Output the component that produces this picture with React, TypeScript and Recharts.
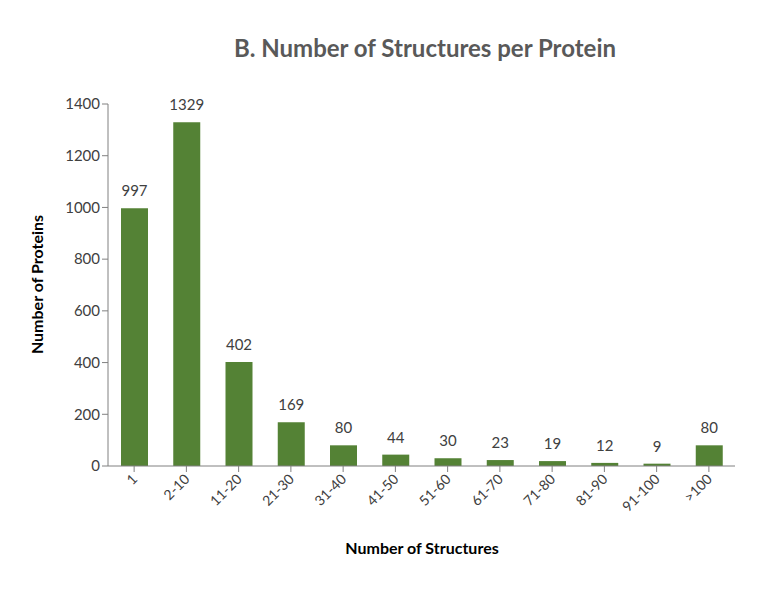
import { BarChart, Bar, XAxis, YAxis } from "recharts";

const categories = ["1", "2-10", "11-20", "21-30", "31-40", "41-50", "51-60", "61-70", "71-80", "81-90", "91-100", ">100"];
const counts = [997, 1329, 402, 169, 80, 44, 30, 23, 19, 12, 9, 80];
const yTicks = [0, 200, 400, 600, 800, 1000, 1200, 1400];

const data = categories.map((c, i) => ({ name: c, value: counts[i] }));

const FONT = "Lato, 'Open Sans', sans-serif";

const RotatedTick = (props: any) => {
  const { x, y, payload } = props;
  return (
    <g transform={`translate(${x + 4},${y + 6})`}>
      <text textAnchor="end" transform="rotate(-45)" fill="#404040" fontSize={14} fontFamily={FONT}>
        {payload.value}
      </text>
    </g>
  );
};

const labelStyle = { fill: "#404040", fontSize: 15, fontFamily: FONT, position: "top" as const, offset: 12 };

export default function App() {
  return (
    <div style={{ position: "relative", margin: -8, width: 767, height: 595, background: "#fff" }}>
      <div style={{ position: "absolute", left: 0, top: 0 }}>
        <BarChart
          width={767}
          height={595}
          data={data}
          margin={{ top: 104, right: 32, bottom: 59, left: 53 }}
        >
          <XAxis
            dataKey="name"
            interval={0}
            tick={<RotatedTick />}
            height={70}
            stroke="#808080"
            tickLine={{ stroke: "#808080" }}
          />
          <YAxis
            domain={[0, 1400]}
            ticks={yTicks}
            width={55}
            stroke="#808080"
            tick={{ fill: "#404040", fontSize: 15, fontFamily: FONT }}
            tickLine={{ stroke: "#808080" }}
          />
          <Bar dataKey="value" fill="#548235" barSize={27} isAnimationActive={false} label={labelStyle} />
        </BarChart>
      </div>
      <div
        style={{
          position: "absolute",
          left: 100,
          width: 650,
          top: 33,
          textAlign: "center",
          fontFamily: FONT,
          fontWeight: "bold",
          fontSize: 24,
          color: "#595959",
        }}
      >
        B. Number of Structures per Protein
      </div>
      <div
        style={{
          position: "absolute",
          left: 36 - 100,
          top: 285 - 10,
          width: 200,
          textAlign: "center",
          transform: "rotate(-90deg)",
          fontFamily: FONT,
          fontWeight: "bold",
          fontSize: 16,
          color: "#000",
        }}
      >
        Number of Proteins
      </div>
      <div
        style={{
          position: "absolute",
          left: 322,
          width: 200,
          top: 538,
          textAlign: "center",
          fontFamily: FONT,
          fontWeight: "bold",
          fontSize: 16,
          color: "#000",
        }}
      >
        Number of Structures
      </div>
    </div>
  );
}
